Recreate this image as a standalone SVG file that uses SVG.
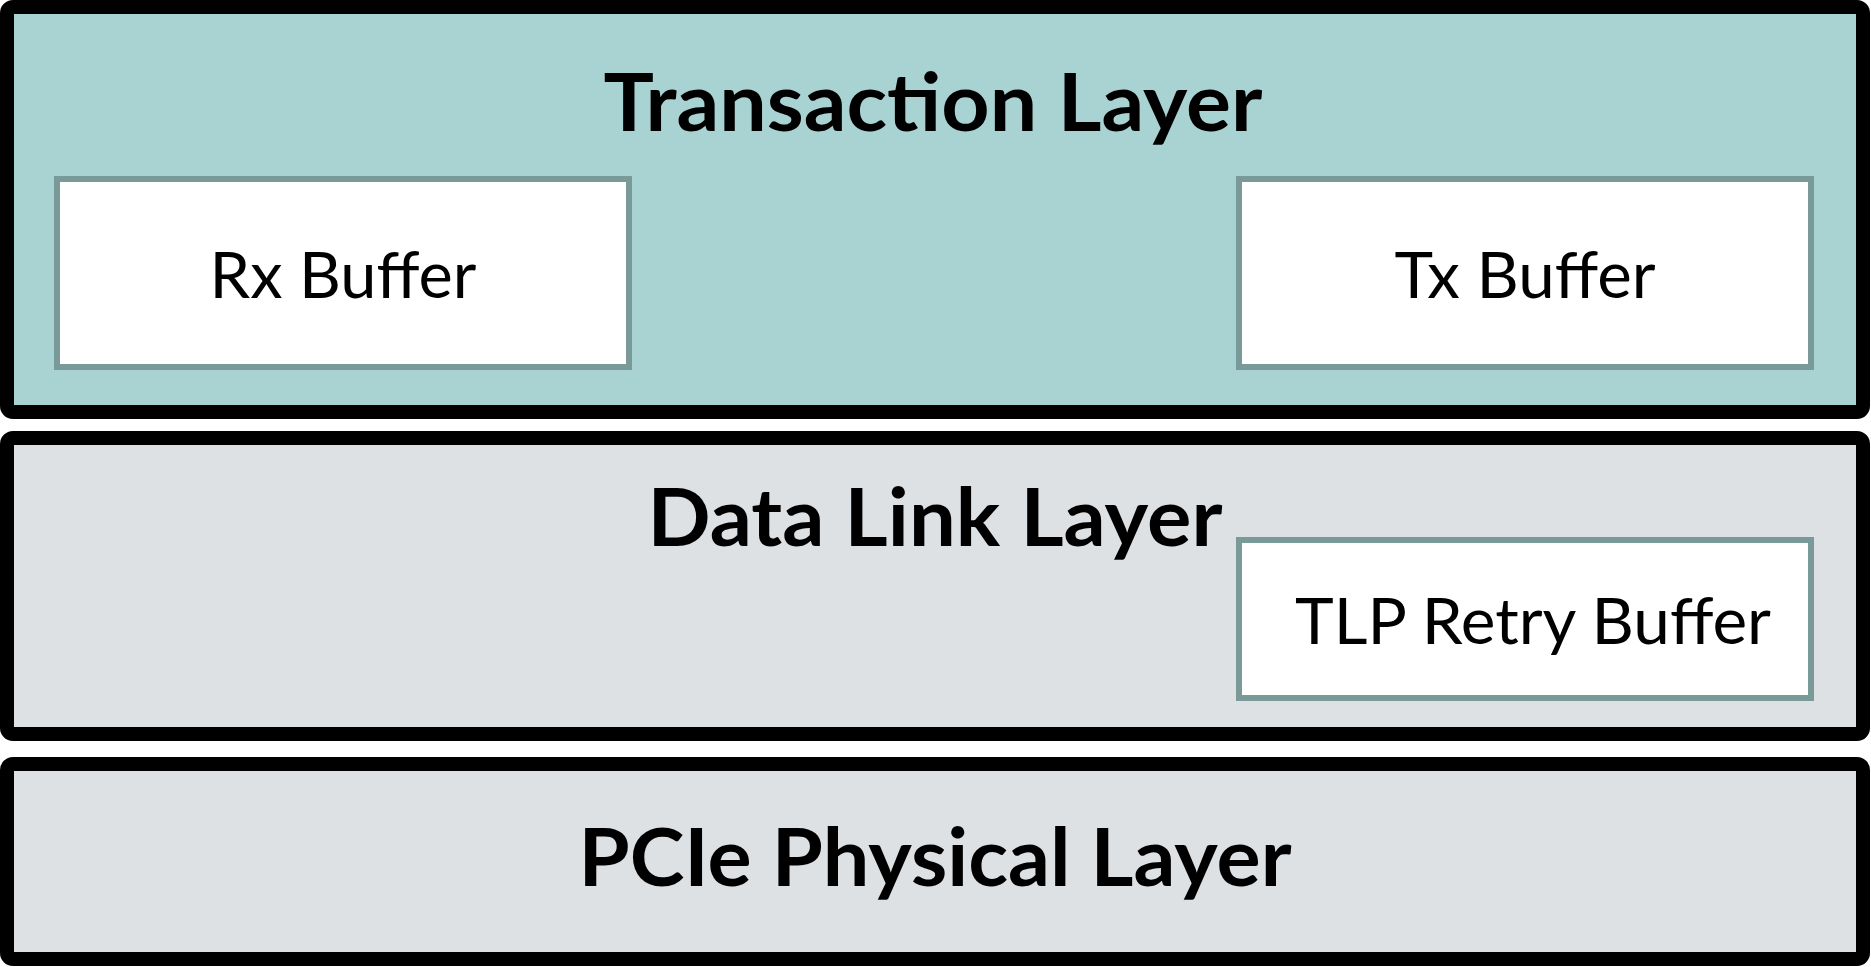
<svg xmlns="http://www.w3.org/2000/svg" width="1871" height="967" viewBox="0 0 1871 967">
<style>
.layer{stroke:#000;stroke-width:14}
.buf{fill:#fff;stroke:#7A9A99;stroke-width:6}
.title{font-family:Lato,"Open Sans",sans-serif;font-weight:bold;font-size:80px;fill:#000;text-anchor:middle}
.lbl{font-family:Lato,"Open Sans",sans-serif;font-size:64px;fill:#000;text-anchor:middle}
</style>
<rect width="1871" height="967" fill="#fff"/>
<g id="transaction-layer">
<rect class="layer" x="7" y="7" width="1856" height="405" rx="6" fill="#A9D2D2"/>
<text class="title" x="933" y="131" textLength="659" lengthAdjust="spacingAndGlyphs">Transaction Layer</text>
</g>
<g id="rx-buffer">
<rect class="buf" x="57" y="179" width="572" height="188"/>
<text class="lbl" x="343" y="298" textLength="267" lengthAdjust="spacingAndGlyphs">Rx Buffer</text>
</g>
<g id="tx-buffer">
<rect class="buf" x="1239" y="179" width="572" height="188"/>
<text class="lbl" x="1525" y="298" textLength="261" lengthAdjust="spacingAndGlyphs">Tx Buffer</text>
</g>
<g id="data-link-layer">
<rect class="layer" x="7" y="438" width="1856" height="296" rx="6" fill="#DEE1E4"/>
<text class="title" x="935" y="546" textLength="575" lengthAdjust="spacingAndGlyphs">Data Link Layer</text>
</g>
<g id="tlp-retry-buffer">
<rect class="buf" x="1239" y="540" width="572" height="158"/>
<text class="lbl" x="1533" y="644" textLength="476" lengthAdjust="spacingAndGlyphs">TLP Retry Buffer</text>
</g>
<g id="physical-layer">
<rect class="layer" x="7" y="764" width="1856" height="195" rx="6" fill="#DEE1E4"/>
<text class="title" x="935" y="886" textLength="713" lengthAdjust="spacingAndGlyphs">PCIe Physical Layer</text>
</g>
<g id="connectors"/>
</svg>
